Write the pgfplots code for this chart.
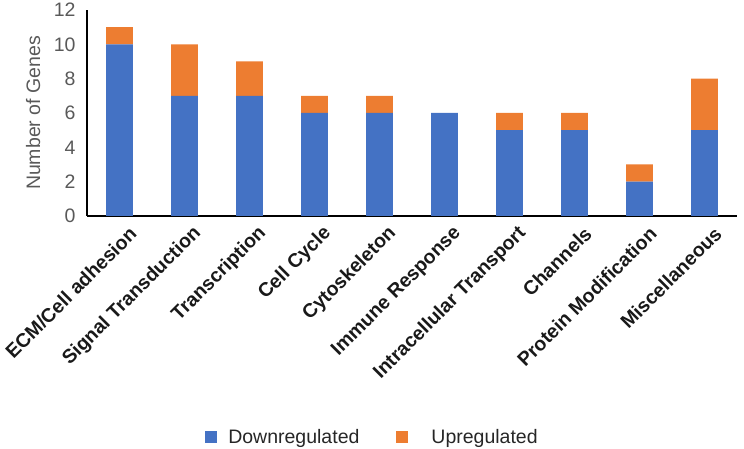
\documentclass[border=0pt]{standalone}
\usepackage{fontspec}
\setmainfont{Liberation Sans}
\usepackage{pgfplots}
\pgfplotsset{compat=1.18}
\definecolor{cblue}{HTML}{4472C4}
\definecolor{corange}{HTML}{ED7D31}
\definecolor{tgray}{HTML}{595959}
\begin{document}
\begin{tikzpicture}
\useasboundingbox (0,0) rectangle (744pt,449pt);
\begin{axis}[
  at={(87pt,233pt)}, anchor=south west,
  scale only axis, width=650pt, height=206pt,
  ybar stacked, bar width=0.415,
  xmin=-0.5, xmax=9.5, ymin=0, ymax=12,
  ytick={0,2,...,12},
  xtick={0,...,9},
  xticklabels={ECM/Cell adhesion,Signal Transduction,Transcription,Cell Cycle,Cytoskeleton,Immune Response,Intracellular Transport,Channels,Protein Modification,Miscellaneous},
  axis x line*=bottom, axis y line*=left,
  axis line style={line width=1.8pt, black},
  major tick length=0pt,
  /pgf/number format/assume math mode=true,
  yticklabel style={font=\fontsize{19.5}{20}\selectfont, text=tgray, xshift=-8pt},
  xticklabel style={font=\fontsize{19.5}{20}\selectfont\bfseries, text=black!90, xshift=16pt, yshift=-12pt, rotate=45, anchor=east},
  ylabel={Number of Genes},
  ylabel style={font=\fontsize{19.5}{20}\selectfont, text=tgray, at={(axis description cs:-0.083,0.5)}, anchor=center},
  legend columns=2,
  legend style={draw=none, fill=none, at={(0.4377,-1.073)}, anchor=center, font=\fontsize{19.5}{20}\selectfont, text=black!85,
    nodes={inner xsep=0pt},
    /tikz/every odd column/.append style={column sep=11pt},
    /tikz/every even column/.append style={column sep=37pt}},
  legend image code/.code={\fill[#1] (0pt,-6pt) rectangle (12pt,6pt);},
]
\addplot[fill=cblue, draw=none] coordinates {(0,10) (1,7) (2,7) (3,6) (4,6) (5,6) (6,5) (7,5) (8,2) (9,5)};
\addplot[fill=corange, draw=none] coordinates {(0,1) (1,3) (2,2) (3,1) (4,1) (5,0) (6,1) (7,1) (8,1) (9,3)};
\legend{Downregulated,\hspace{12pt}Upregulated}
\end{axis}
\end{tikzpicture}
\end{document}
